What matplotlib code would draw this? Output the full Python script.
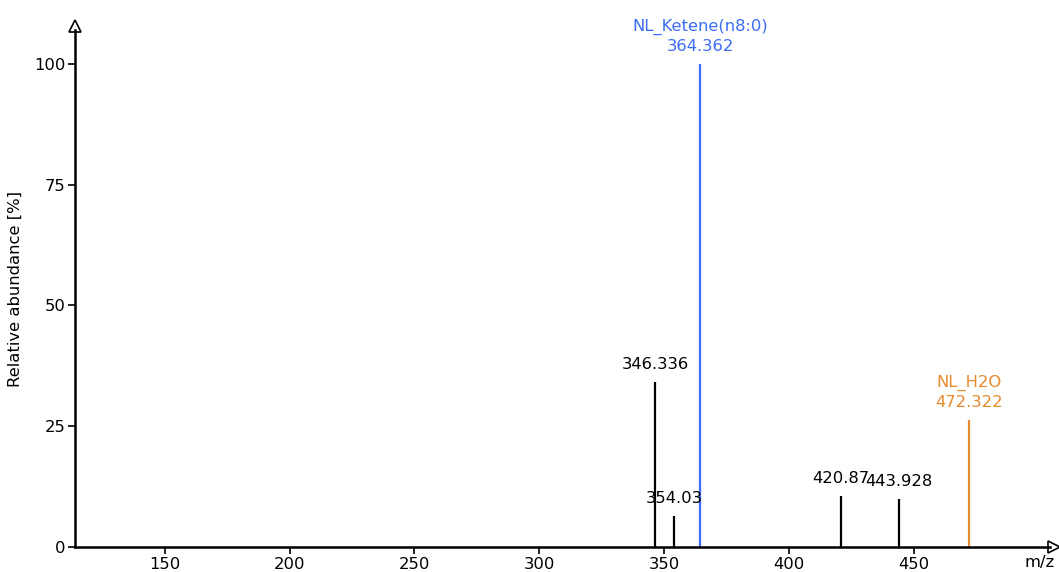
import matplotlib.pyplot as plt
from matplotlib.transforms import offset_copy

plt.rcParams['font.family'] = ['DejaVu Sans']

mz = [346.336, 354.03, 364.362, 420.87, 443.928, 472.322]
intensity = [34.2, 6.4, 100.0, 10.6, 9.9, 26.3]
labels = ['346.336', '354.03', 'NL_Ketene(n8:0)\n364.362', '420.87', '443.928', 'NL_H2O\n472.322']
colors = ['black', 'black', '#3b6cf6', 'black', 'black', '#e68a2e']

fig = plt.figure(figsize=(10.59, 5.72), dpi=100)
ax = fig.add_axes([75/1059, 25/572, 975/1059, 517/572])

for x, y, lab, c in zip(mz, intensity, labels, colors):
    ax.vlines(x, 0, y, color=c, lw=1.6)
    ax.annotate(lab, (x, y), xytext=(0, 7), textcoords='offset points',
                ha='center', va='bottom', color=c, fontsize=11.8, linespacing=1.35)

ax.set_xlim(114, 504.6)
ax.set_ylim(0, 107.0)
ax.set_xticks([150, 200, 250, 300, 350, 400, 450])
ax.set_yticks([0, 25, 50, 75, 100])
ax.tick_params(labelsize=11.8, width=1.2, length=5, pad=2)
for s in ['top', 'right']:
    ax.spines[s].set_visible(False)
for s in ['left', 'bottom']:
    ax.spines[s].set_linewidth(1.8)

# open arrow heads at axis ends
tr_x = offset_copy(ax.transAxes, fig=fig, x=3, y=0, units='points')
tr_y = offset_copy(ax.transAxes, fig=fig, x=0, y=3, units='points')
ax.plot(1, 0, marker='>', ms=9, mfc='white', mec='black', mew=1.2,
        transform=tr_x, clip_on=False)
ax.plot(0, 1, marker='^', ms=9, mfc='white', mec='black', mew=1.2,
        transform=tr_y, clip_on=False)

ax.set_ylabel('Relative abundance [%]', fontsize=11.8, labelpad=8)
fig.text(1040/1059, 1 - 563/572, 'm/z', ha='center', va='center', fontsize=11.8)

fig.savefig('out.png', dpi=100)
